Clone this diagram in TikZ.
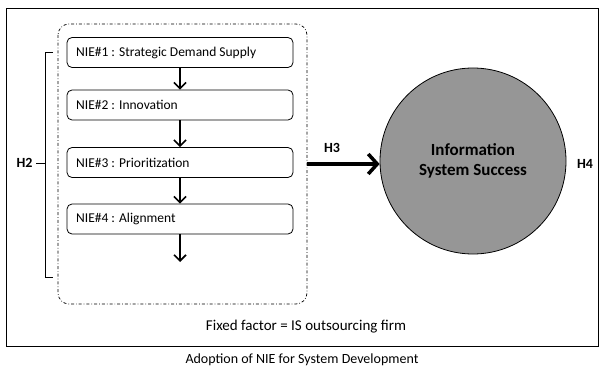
\documentclass[tikz,border=0pt]{standalone}
\usepackage{fontspec}
\setmainfont{Carlito}
\usetikzlibrary{arrows.meta}
\begin{document}
\begin{tikzpicture}[x=1pt,y=-1pt,
  niebox/.style={draw,line width=0.8pt,rounded corners=5pt,minimum width=226pt,minimum height=30pt,inner sep=0pt},
  flow/.style={line width=1.6pt,-{Straight Barb[length=6pt,width=12pt,line width=1.6pt]}},
  lbl/.style={font=\bfseries\fontsize{14}{16}\selectfont},
  nietxt/.style={anchor=west,font=\fontsize{13.5}{16}\selectfont}]
\useasboundingbox (0,0) rectangle (604,374);
\draw[line width=0.8pt] (6,8) rectangle (598,346);
\draw[line width=0.7pt,dash dot,rounded corners=11pt] (58,24) rectangle (307,304);
\node[niebox] (n1) at (180,52.5) {};
\node[niebox] (n2) at (180,105) {};
\node[niebox] (n3) at (180,162.5) {};
\node[niebox] (n4) at (180,219) {};
\node[nietxt] at ([xshift=6pt]n1.west) {NIE\#1 : Strategic Demand Supply};
\node[nietxt] at ([xshift=6pt]n2.west) {NIE\#2 : Innovation};
\node[nietxt] at ([xshift=6pt]n3.west) {NIE\#3 : Prioritization};
\node[nietxt] at ([xshift=6pt]n4.west) {NIE\#4 : Alignment};
\coordinate (end) at (180,262);
\draw[flow] (n1.south) -- (n2.north);
\draw[flow] (n2.south) -- (n3.north);
\draw[flow] (n3.south) -- (n4.north);
\draw[flow] (n4.south) -- (end);
% bracket
\coordinate (bt) at (53,52);
\coordinate (bb) at (53,277);
\draw[line width=0.8pt] (bt) -- (45,52) -- (45,277) -- (bb);
\node[lbl,anchor=east] (h2) at (36,163) {H2};
\draw[line width=0.8pt] (h2.east) -- (45,163);
% circle
\node[circle,draw,line width=0.8pt,fill=black!41,minimum size=186pt,inner sep=0pt,align=center,font=\bfseries\fontsize{17}{20}\selectfont] (iss) at (473,161) {Information\\System Success};
\coordinate (h3s) at (307,164);
\draw[line width=4.5pt,-{Straight Barb[length=9pt,width=20pt,line width=3.5pt]}] (h3s) -- (iss.west |- h3s);
\node[lbl] (h3) at (332,148) {H3};
\node[lbl] (h4) at (585,164) {H4};
\node[font=\fontsize{15}{18}\selectfont] (ff) at (306,327) {Fixed factor = IS outsourcing firm};
\node[font=\fontsize{14}{17}\selectfont] (cap) at (302,360) {Adoption of NIE for System Development};
\end{tikzpicture}
\end{document}
